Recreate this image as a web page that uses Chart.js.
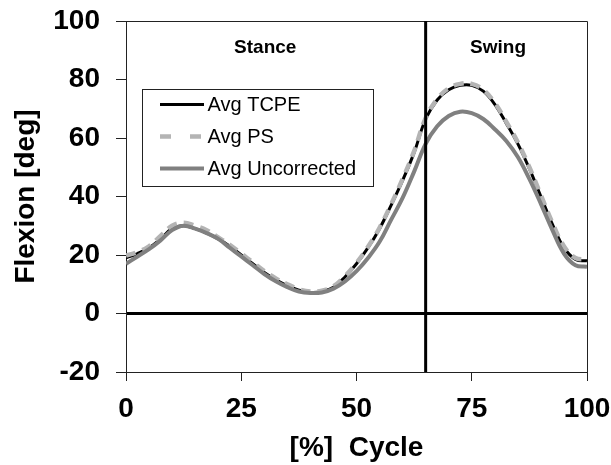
<!DOCTYPE html>
<html>
<head>
<meta charset="utf-8">
<script src="https://cdn.jsdelivr.net/npm/chart.js@4.4.1/dist/chart.umd.min.js"></script>
<style>
    html, body { margin: 0; padding: 0; background: #fff; }
    #wrap { width: 611px; height: 465px; }
</style>
</head>
<body>
<div id="wrap"><canvas id="flexionChart"></canvas></div>
<script>
var cyclePercent = [0, 2.5, 5, 7.5, 10, 12.5, 15, 17.5, 20, 22.5, 25, 27.5, 30, 32.5, 35, 37.5, 40, 42.5, 45, 47.5,
    50, 52.5, 55, 57.5, 60, 62.5, 65, 67.5, 70, 72.5, 75, 77.5, 80, 82.5, 85, 87.5, 90, 92.5, 95, 97.5, 100];

var avgTCPE = [19, 20.5, 22.5, 25.5, 29, 30, 29, 27.5, 25.5, 23, 20, 17, 14, 11.5, 9.5, 8, 7.2, 7.5, 9, 12.5,
    17, 22.5, 29, 37, 45.5, 55, 66.5, 73, 76.5, 78, 78, 76, 71.5, 65, 58, 49.5, 40, 30.5, 22.5, 18.5, 18];

var avgPS = [19.8, 21, 23, 26.5, 30, 31, 30, 28.5, 26, 23.5, 20.5, 17.5, 14.5, 12, 10, 8.3, 7.5, 7.8, 9.3, 12.8,
    17.3, 22.8, 29.3, 37.3, 46, 55.5, 66.8, 73.3, 77, 78.5, 78.5, 76.5, 72, 65.5, 58.5, 50, 40.5, 31, 23, 19, 18.5];

var avgUncorrected = [17, 19.5, 22, 25, 28.5, 30, 29, 27.5, 25.5, 22.5, 19.5, 16.5, 13.5, 11, 9, 7.5, 7, 7.2, 8.5, 11,
    14.5, 19, 24.5, 32, 39.5, 48.5, 58, 64, 67.5, 69, 68.5, 66.5, 63, 59, 53.5, 46, 37.5, 28.5, 20.5, 16.5, 16];

var seriesNames = ['Avg TCPE', 'Avg PS', 'Avg Uncorrected'];
var xTickValues = [0, 25, 50, 75, 100];
var yTickValues = [-20, 0, 20, 40, 60, 80, 100];
var phaseNames = ['Stance', 'Swing'];
var toeOffPercent = 65;

var fontFamily = '"Liberation Sans", Arial, sans-serif';

function toPoints(values) {
    var points = [];
    for (let i = 0; i < cyclePercent.length; i++) {
        points.push({ x: cyclePercent[i], y: values[i] });
    }
    return points;
}

//The plot area is fixed by layout padding only, so drop the label overhang padding.
function clearScalePadding(scale) {
    scale.paddingLeft = 0;
    scale.paddingRight = 0;
    scale.paddingTop = 0;
    scale.paddingBottom = 0;
}

//Draws the toe-off line, the frame, the phase names and the boxed legend.
var phasePlugin = {
    id: 'phaseMarks',
    afterDatasetsDraw: function (chart) {
        var ctx = chart.ctx;
        var area = chart.chartArea;
        var xScale = chart.scales.x;
        var yScale = chart.scales.y;

        ctx.save();

        //Top and right border of the plot area.
        ctx.strokeStyle = '#222';
        ctx.lineWidth = 1;
        ctx.beginPath();
        ctx.moveTo(area.left, Math.round(area.top) + 0.5);
        ctx.lineTo(Math.round(area.right) + 0.5, Math.round(area.top) + 0.5);
        ctx.lineTo(Math.round(area.right) + 0.5, area.bottom);
        ctx.stroke();

        //Toe-off line between stance and swing.
        var toeOffX = xScale.getPixelForValue(toeOffPercent);
        ctx.strokeStyle = '#000';
        ctx.lineWidth = 3;
        ctx.beginPath();
        ctx.moveTo(toeOffX, area.top);
        ctx.lineTo(toeOffX, area.bottom);
        ctx.stroke();

        ctx.fillStyle = '#000';
        ctx.font = 'bold 19px ' + fontFamily;
        ctx.textAlign = 'center';
        ctx.textBaseline = 'middle';
        ctx.fillText(phaseNames[0], xScale.getPixelForValue(30.2), yScale.getPixelForValue(91));
        ctx.fillText(phaseNames[1], xScale.getPixelForValue(80.7), yScale.getPixelForValue(91));

        //Legend box.
        var boxLeft = area.left + 16;
        var boxTop = area.top + 67.5;
        ctx.fillStyle = '#fff';
        ctx.fillRect(boxLeft, boxTop, 231, 97);
        ctx.strokeStyle = '#222';
        ctx.lineWidth = 1;
        ctx.strokeRect(Math.round(boxLeft) + 0.5, Math.round(boxTop) + 0.5, 231, 97);

        var legendDashes = [[], [11, 19], []];
        chart.data.datasets.forEach(function (dataSet, i) {
            var rowY = boxTop + 16 + i * 32;
            ctx.strokeStyle = dataSet.borderColor;
            ctx.lineWidth = dataSet.borderWidth;
            ctx.setLineDash(legendDashes[i]);
            ctx.beginPath();
            ctx.moveTo(boxLeft + 18, rowY);
            ctx.lineTo(boxLeft + 62, rowY);
            ctx.stroke();
            ctx.setLineDash([]);

            ctx.fillStyle = '#000';
            ctx.font = '20px ' + fontFamily;
            ctx.textAlign = 'left';
            ctx.textBaseline = 'middle';
            ctx.fillText(dataSet.label, boxLeft + 65.5, rowY + 1);
        });

        ctx.restore();
    }
};

var flexionChartControl = document.getElementById('flexionChart');

var flexionChart = new Chart(flexionChartControl, {
    type: 'line',
    data: {
        datasets: [
            {
                label: seriesNames[0],
                data: toPoints(avgTCPE),
                borderColor: '#000000',
                borderWidth: 3,
                order: 3
            },
            {
                label: seriesNames[1],
                data: toPoints(avgPS),
                borderColor: '#b4b4b4',
                borderWidth: 4.5,
                borderDash: [10, 7],
                order: 2
            },
            {
                label: seriesNames[2],
                data: toPoints(avgUncorrected),
                borderColor: '#808080',
                borderWidth: 4,
                order: 1
            }
        ]
    },
    options: {
        responsive: true,
        maintainAspectRatio: false,
        animation: false,
        layout: {
            padding: { left: 0, right: 24, top: 21, bottom: 0 }
        },
        elements: {
            point: { radius: 0 },
            line: { tension: 0.4, fill: false }
        },
        scales: {
            x: {
                type: 'linear',
                min: 0,
                max: 100,
                afterBuildTicks: function (scale) {
                    scale.ticks = xTickValues.map(function (v) { return { value: v }; });
                },
                afterFit: function (scale) {
                    scale.height = 93;
                    clearScalePadding(scale);
                },
                grid: {
                    color: 'transparent',
                    tickColor: '#222',
                    tickLength: 9,
                    tickWidth: 1
                },
                border: { display: true, color: '#222', width: 1 },
                ticks: {
                    color: '#000',
                    padding: 11,
                    maxRotation: 0,
                    font: { family: fontFamily, size: 28, weight: 'bold' }
                },
                title: {
                    display: true,
                    text: '[%]  Cycle',
                    color: '#000',
                    padding: { top: 0, bottom: 0 },
                    font: { family: fontFamily, size: 28, weight: 'bold' }
                }
            },
            y: {
                min: -20,
                max: 100,
                afterBuildTicks: function (scale) {
                    scale.ticks = yTickValues.map(function (v) { return { value: v }; });
                },
                afterFit: function (scale) {
                    scale.width = 126;
                    clearScalePadding(scale);
                },
                grid: {
                    color: function (context) {
                        return context.tick && context.tick.value === 0 ? '#000' : 'transparent';
                    },
                    lineWidth: function (context) {
                        return context.tick && context.tick.value === 0 ? 3 : 1;
                    },
                    tickColor: '#222',
                    tickLength: 10,
                    tickWidth: 1
                },
                border: { display: true, color: '#222', width: 1 },
                ticks: {
                    color: '#000',
                    padding: 16,
                    font: { family: fontFamily, size: 28, weight: 'bold' }
                },
                title: {
                    display: true,
                    text: 'Flexion [deg]',
                    color: '#000',
                    padding: { top: 9, bottom: 0 },
                    font: { family: fontFamily, size: 28, weight: 'bold' }
                }
            }
        },
        plugins: {
            legend: { display: false },
            tooltip: { enabled: false }
        }
    },
    plugins: [phasePlugin]
});
</script>
</body>
</html>
